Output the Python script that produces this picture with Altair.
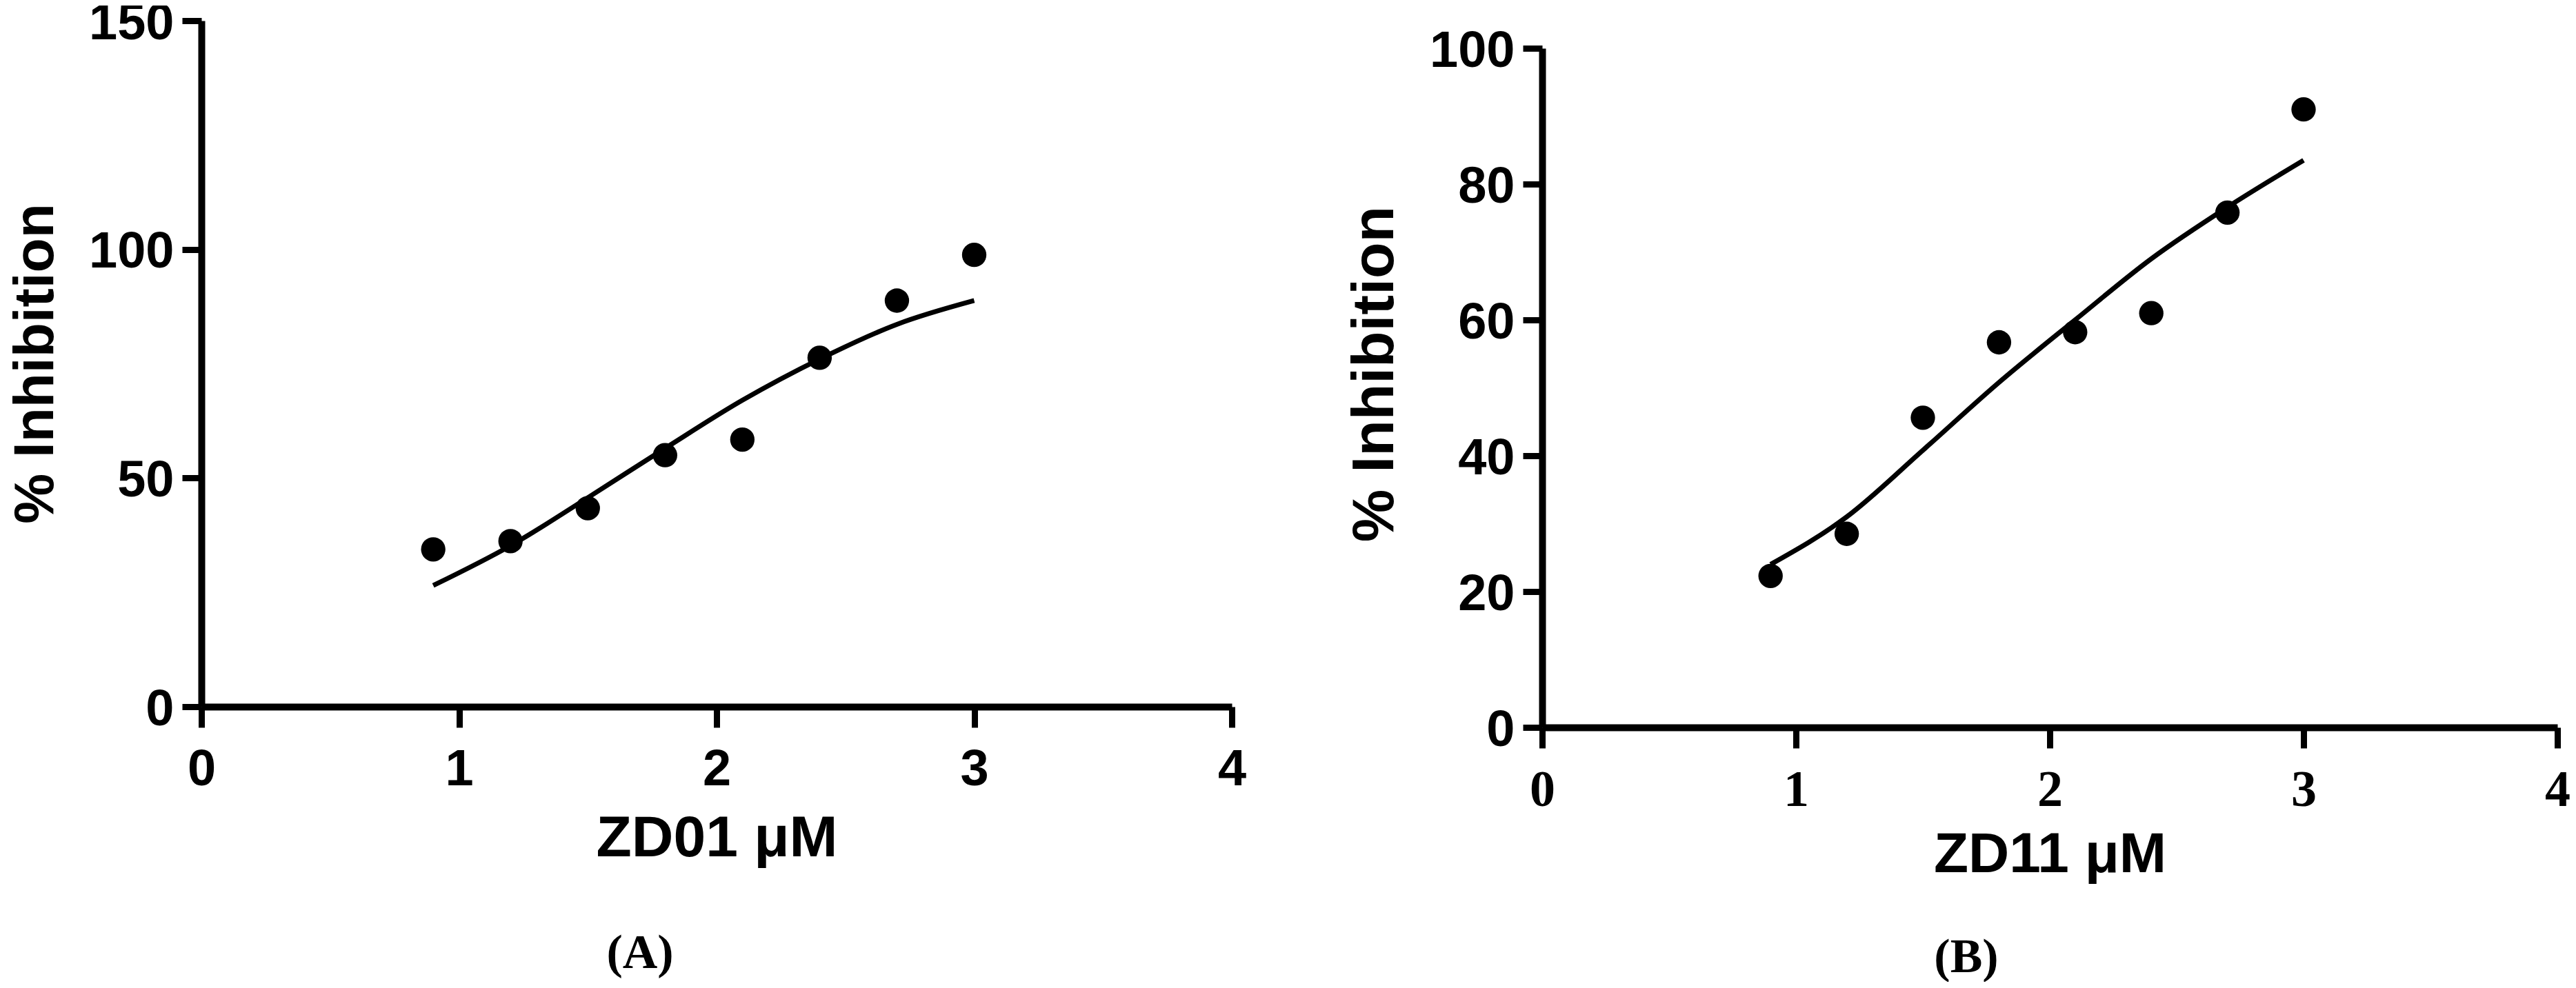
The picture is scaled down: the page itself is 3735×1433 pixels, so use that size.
import altair as alt
import pandas as pd

# doses (µM)
dose = [0.9, 1.2, 1.5, 1.8, 2.1, 2.4, 2.7, 3.0]

# Panel A: ZD01
zd01_points = [34.4, 36.2, 43.4, 55.0, 58.4, 76.3, 88.8, 98.8]
zd01_fit = [26.5, 35.2, 45.7, 56.5, 67.0, 76.0, 83.6, 88.8]

# Panel B: ZD11
zd11_points = [22.3, 28.5, 45.6, 56.7, 58.2, 61.0, 75.8, 91.0]
zd11_fit = [24.0, 31.0, 40.8, 50.8, 60.0, 69.0, 76.6, 83.5]

x_ticks = [0, 1, 2, 3, 4]
a_y_ticks = [0, 50, 100, 150]
b_y_ticks = [0, 20, 40, 60, 80, 100]

SANS = "Liberation Sans"
SERIF = "Liberation Serif"


def panel(points, fit, xtitle, ymax, yticks, caption, w, h,
          xlabelfont, xtitlesize, ytitlesize, xtitlepad, cap_dx, cap_off,
          ytitle_y):
    df = pd.DataFrame({"dose": dose, "inh": points, "fit": fit})
    xaxis = alt.Axis(values=x_ticks, title=xtitle, format="d",
                     labelFont=xlabelfont, tickSize=30, labelPadding=25,
                     labelFlush=False,
                     titlePadding=xtitlepad, titleFontSize=xtitlesize)
    yaxis = alt.Axis(values=yticks, title="% Inhibition", format="d",
                     tickSize=28, labelPadding=12, titlePadding=35,
                     labelFlush=False, labelOffset=4,
                     titleFontSize=ytitlesize, titleY=ytitle_y)
    xs = alt.Scale(domain=[0, 4], nice=False, zero=False)
    ys = alt.Scale(domain=[0, ymax], nice=False)
    base = alt.Chart(df)
    line = base.mark_line(interpolate="monotone", strokeWidth=7,
                          color="black").encode(
        x=alt.X("dose:Q", scale=xs, axis=xaxis),
        y=alt.Y("fit:Q", scale=ys, axis=yaxis),
    )
    pts = base.mark_circle(size=1250, color="black", opacity=1).encode(
        x=alt.X("dose:Q", scale=xs, axis=xaxis),
        y=alt.Y("inh:Q", scale=ys, axis=yaxis),
    )
    return alt.layer(line, pts).properties(
        width=w, height=h,
        title=alt.TitleParams(text=caption, orient="bottom", anchor="middle",
                              frame="group", dx=cap_dx, offset=cap_off),
    )


left = panel(zd01_points, zd01_fit, "ZD01 μM", 150, a_y_ticks, "(A)",
             1494, 995, SANS, 84, 82, 22, -111, 91, 497)
right = panel(zd11_points, zd11_fit, "ZD11 μM", 100, b_y_ticks, "(B)",
              1472, 985, SERIF, 82, 86, 16, -121, 75, 472)

spacer = alt.Chart(pd.DataFrame({"v": [0]})).mark_point(opacity=0, size=1).encode(
    x=alt.value(0), y=alt.value(0)
).properties(width=10, height=7)

chart = alt.hconcat(
    left, alt.vconcat(spacer, right, spacing=0), spacing=143
).properties(
    padding={"left": 2, "top": -11, "right": 0, "bottom": 0},
    background="white",
).configure_view(stroke=None).configure_axis(
    grid=False,
    domainColor="black", tickColor="black",
    labelColor="black", titleColor="black",
    domainWidth=10, tickWidth=9,
    labelFont=SANS, labelFontWeight="bold", labelFontSize=74,
    titleFont=SANS, titleFontWeight="bold",
).configure_title(
    font=SERIF, fontSize=70, fontWeight="bold", color="black",
)

chart.save("out.html", embed_options={"renderer": "svg", "actions": False})
